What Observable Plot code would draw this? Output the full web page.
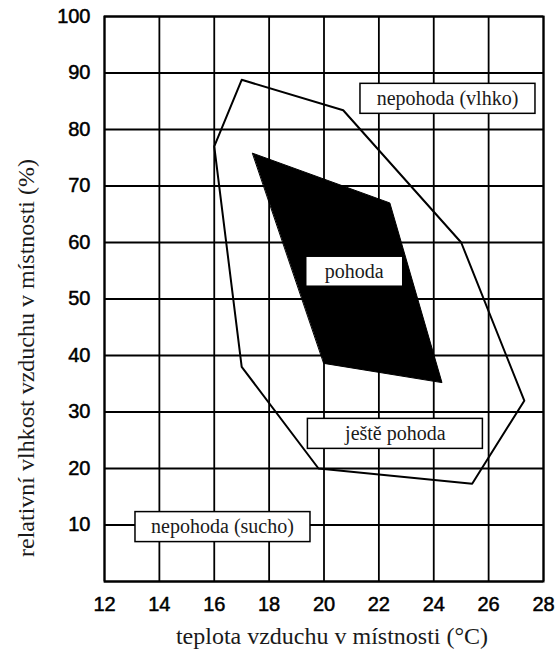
<!DOCTYPE html>
<html><head><meta charset="utf-8">
<script src="https://cdn.jsdelivr.net/npm/d3@7"></script>
<script src="https://cdn.jsdelivr.net/npm/@observablehq/plot@0.6"></script>
<style>
body{margin:0;background:#fff}
#chart svg{display:block}
</style>
</head><body><div id="chart"></div>
<script>
// ---- data ----
const xTicks = [12, 14, 16, 18, 20, 22, 24, 26, 28];
const yTicks = [10, 20, 30, 40, 50, 60, 70, 80, 90, 100];
const yGrid = [0, 10, 20, 30, 40, 50, 60, 70, 80, 90, 100];

// outer zone ("ještě pohoda") boundary
const outerTemp = [17.0, 20.7, 25.0, 27.3, 25.4, 19.8, 17.0, 16.0];
const outerHum  = [88.8, 83.4, 60.0, 32.0, 17.3, 20.0, 38.0, 77.0];

// inner comfort zone ("pohoda")
const comfortTemp = [17.4, 22.4, 24.3, 20.0];
const comfortHum  = [75.8, 67.0, 35.2, 38.6];

// zone labels
const zoneLabels    = ["nepohoda (vlhko)", "ještě pohoda", "nepohoda (sucho)"];
const zoneLabelTemp = [24.5, 22.6, 16.3];
const zoneLabelHum  = [85.5, 26.2, 9.7];
const comfortLabels    = ["pohoda"];
const comfortLabelTemp = [21.1];
const comfortLabelHum  = [54.9];

const xTitle = "teplota vzduchu v místnosti (°C)";
const yTitle = "relativní vlhkost vzduchu v místnosti (%)";

// ---- tables built from the arrays ----
const outer = outerTemp.map((t, i) => ({t, h: outerHum[i]}));
const comfort = comfortTemp.map((t, i) => ({t, h: comfortHum[i]}));
const zones = zoneLabels.map((s, i) => ({s, t: zoneLabelTemp[i], h: zoneLabelHum[i]}));
const comfortLab = comfortLabels.map((s, i) => ({s, t: comfortLabelTemp[i], h: comfortLabelHum[i]}));

const serif = "'Liberation Serif', 'DejaVu Serif', serif";
const sans = "'Liberation Sans', Arial, sans-serif";

const chart = Plot.plot({
  width: 557,
  height: 652,
  marginLeft: 104,
  marginRight: 14,
  marginTop: 16,
  marginBottom: 71,
  x: {domain: [12, 28]},
  y: {domain: [0, 100]},
  style: {background: "#fff", color: "#000"},
  marks: [
    Plot.ruleX(xTicks, {stroke: "#000", strokeWidth: 1.8}),
    Plot.ruleY(yGrid, {stroke: "#000", strokeWidth: 1.8}),
    Plot.frame({stroke: "#000", strokeWidth: 2}),
    Plot.line(outer, {x: "t", y: "h", curve: "linear-closed", stroke: "#000", strokeWidth: 2, fill: "none"}),
    Plot.line(comfort, {x: "t", y: "h", curve: "linear-closed", stroke: "#000", strokeWidth: 1, fill: "#000"}),
    Plot.axisX(xTicks, {tickSize: 0, tickPadding: 15, fontSize: 20, fontFamily: sans, label: null}),
    Plot.axisY(yTicks, {tickSize: 0, tickPadding: 14, fontSize: 20, fontFamily: sans, label: null}),
    Plot.text(zones, {x: "t", y: "h", text: "s", fontSize: 20, fontFamily: serif, fill: "#1a1a1a"}),
    Plot.text(comfortLab, {x: "t", y: "h", text: "s", fontSize: 20, fontFamily: serif, fill: "#1a1a1a"}),
    Plot.text([xTitle], {frameAnchor: "bottom", lineAnchor: "bottom", dx: 8, dy: 62, fontSize: 24, fontFamily: serif, fill: "#1a1a1a"}),
    Plot.text([yTitle], {frameAnchor: "left", textAnchor: "middle", lineAnchor: "bottom", dx: -71, dy: 59, rotate: -90, fontSize: 24, fontFamily: serif, fill: "#1a1a1a"})
  ]
});
document.getElementById("chart").appendChild(chart);

// thicken sans tick labels slightly
chart.querySelectorAll('g[aria-label^="x-axis tick label"], g[aria-label^="y-axis tick label"]').forEach(g => {
  g.setAttribute("stroke", "#000");
  g.setAttribute("stroke-width", "0.5");
});

// white boxes behind the label texts
const textGroups = chart.querySelectorAll('g[aria-label="text"]');
const boxWidths = [175, 97];
[0, 1].forEach(k => {
  const g = textGroups[k];
  if (!g) return;
  g.querySelectorAll("text").forEach(t => {
    const b = t.getBBox();
    const m = t.getCTM(), pm = g.getCTM();
    const cx = b.x + b.width / 2, cy = b.y + b.height / 2;
    let x = cx, y = cy;
    if (m && pm) {
      const pt = chart.createSVGPoint();
      pt.x = cx; pt.y = cy;
      const p = pt.matrixTransform(pm.inverse().multiply(m));
      x = p.x; y = p.y;
    }
    const r = document.createElementNS("http://www.w3.org/2000/svg", "rect");
    const w = boxWidths[k], h = 30;
    r.setAttribute("x", x - w / 2);
    r.setAttribute("y", y - h / 2);
    r.setAttribute("width", w);
    r.setAttribute("height", h);
    r.setAttribute("fill", "#fff");
    r.setAttribute("stroke", "#000");
    r.setAttribute("stroke-width", "1.5");
    g.insertBefore(r, g.firstChild);
  });
});
</script>
</body></html>
